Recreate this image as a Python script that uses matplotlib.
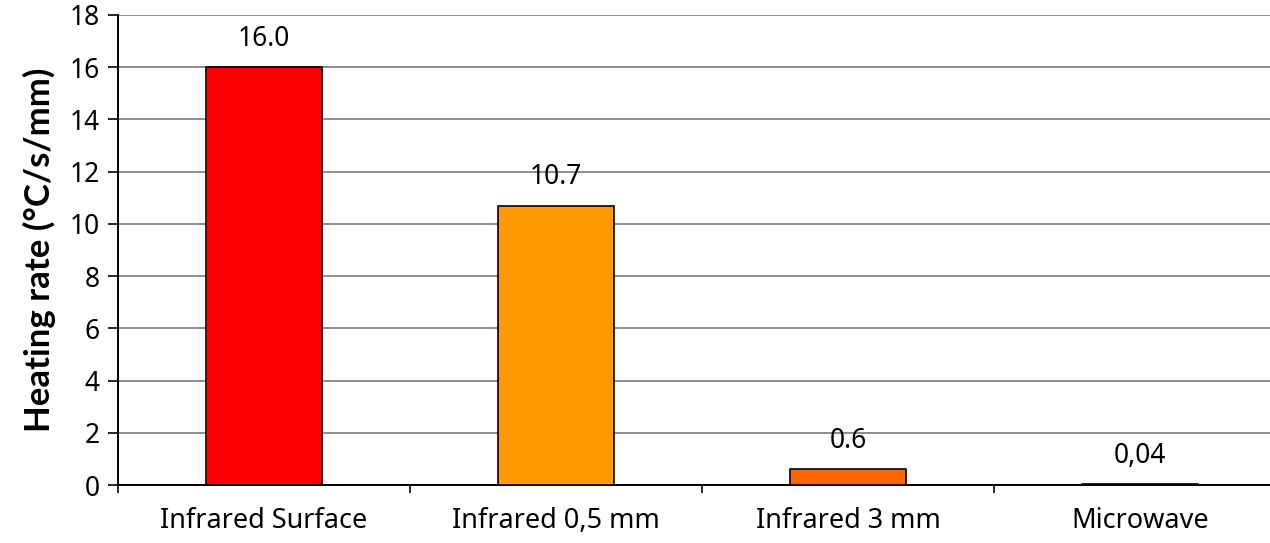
import matplotlib
matplotlib.use("Agg")
import matplotlib.pyplot as plt
from matplotlib.ticker import MultipleLocator, FixedLocator

plt.rcParams["font.family"] = ["Noto Sans", "DejaVu Sans"]

categories = ["Infrared Surface", "Infrared 0,5 mm", "Infrared 3 mm", "Microwave"]
values = [16.0, 10.7, 0.6, 0.04]
value_labels = ["16.0", "10.7", "0.6", "0,04"]
bar_colors = ["#ff0000", "#ff9900", "#ff6600", "#ff6600"]

fig = plt.figure(figsize=(12.7, 5.43), dpi=100)
# the original chart runs past the right edge of the image
ax = fig.add_axes([0.0929, 0.1068, 0.9197, 0.8656])

x = list(range(len(categories)))
ax.bar(x, values, width=0.40, color=bar_colors, edgecolor="black",
       linewidth=1.2, zorder=3)

for xi, v, lab in zip(x, values, value_labels):
    ax.text(xi, v + 0.55, lab, ha="center", va="bottom", fontsize=19,
            color="black", zorder=4)

ax.set_xlim(-0.5, 3.5)
ax.set_ylim(0, 18)
ax.yaxis.set_major_locator(MultipleLocator(2))
ax.grid(axis="y", color="#8c8c8c", linewidth=1.4, zorder=0)

ax.set_xticks(x)
ax.set_xticklabels(categories, fontsize=19.5)
ax.xaxis.set_minor_locator(FixedLocator([-0.5, 0.5, 1.5, 2.5, 3.5]))
ax.tick_params(axis="x", which="major", length=0, pad=16)
ax.tick_params(axis="x", which="minor", length=6, width=1.2, direction="out")
ax.tick_params(axis="y", labelsize=19, length=7, width=1.2, direction="out",
               pad=6)

for spine in ("top", "right"):
    ax.spines[spine].set_visible(False)
ax.spines["left"].set_linewidth(1.4)
ax.spines["bottom"].set_linewidth(1.4)

ax.set_ylabel("Heating rate (°C/s/mm)", fontsize=25, fontweight="bold",
              family=["Lato", "Open Sans", "DejaVu Sans"], labelpad=10)

fig.savefig("out.png", dpi=100)
